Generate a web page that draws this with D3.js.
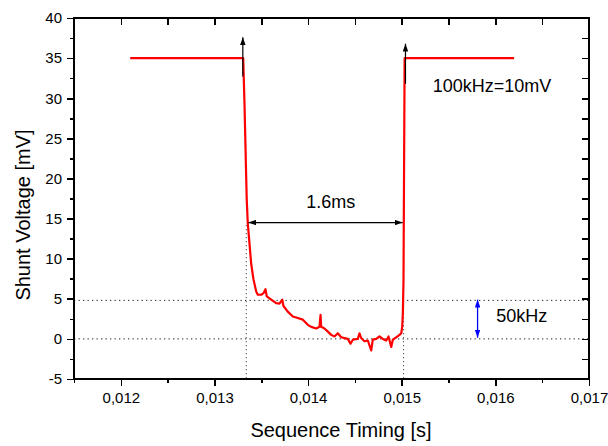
<!DOCTYPE html>
<html>
<head>
<meta charset="utf-8">
<script src="https://cdn.jsdelivr.net/npm/d3@7"></script>
<style>
  html, body { margin: 0; padding: 0; background: #fff; }
  svg { display: block; font-family: "Liberation Sans", Arial, sans-serif; }
</style>
</head>
<body>
<svg id="chart" width="608" height="446"></svg>
<script>
// ---- data ----
const timeS = [0.01210, 0.013307, 0.013321, 0.013337, 0.013345, 0.013356, 0.013374, 0.013392, 0.013417, 0.013446,
  0.013463, 0.013499, 0.013524, 0.013545, 0.013559, 0.013606, 0.013659, 0.013695, 0.013724, 0.013737,
  0.013783, 0.013837, 0.013890, 0.013944, 0.013997, 0.014033, 0.014087, 0.014122, 0.014133, 0.014140,
  0.014175, 0.014211, 0.014247, 0.014282, 0.014317, 0.014354, 0.014389, 0.014424, 0.014453, 0.014478,
  0.014531, 0.014549, 0.014567, 0.014602, 0.014638, 0.014674, 0.014691, 0.014727, 0.014763, 0.014798,
  0.014834, 0.014859, 0.014888, 0.014905, 0.014941, 0.014976, 0.014995, 0.015005, 0.015012, 0.015019,
  0.015031, 0.01620];
const voltageMV = [35, 35, 29.2, 21.1, 17.3, 14.4, 11.9, 9.4, 7.4, 5.9,
  5.5, 5.5, 5.7, 6.2, 5.3, 4.9, 4.45, 4.4, 4.9, 4.1,
  3.4, 2.8, 2.6, 2.4, 1.75, 1.5, 1.3, 1.5, 3.0, 1.5,
  1.3, 0.9, 0.5, 0.3, 0.7, 0.2, 0.1, 0.0, -0.6, -0.1,
  0.0, 0.7, 0.1, -0.3, -0.2, -1.45, -0.1, 0.0, 0.3, 0.0,
  -0.2, 0.3, -1.0, -0.1, 0.2, 0.5, 0.7, 1.5, 3.2, 7.4,
  35, 35];
const xTicks = [0.012, 0.013, 0.014, 0.015, 0.016, 0.017];
const xMinorTicks = [0.0115, 0.0125, 0.0135, 0.0145, 0.0155, 0.0165];
const yTicks = [-5, 0, 5, 10, 15, 20, 25, 30, 35, 40];
const yMinorTicks = [-2.5, 2.5, 7.5, 12.5, 17.5, 22.5, 27.5, 32.5, 37.5];
const refLevels = [0, 4.8];           // dotted horizontal reference lines (mV)
const markTimes = [0.01334, 0.01502]; // dotted vertical marks (s)

// ---- scales ----
const svg = d3.select("#chart");
const L = 74, R = 589, T = 18, B = 379;
const x = d3.scaleLinear().domain([0.0115, 0.017]).range([L, R]);
const y = d3.scaleLinear().domain([-5, 40]).range([B, T]);
const fmt = d => d3.format(".3f")(d).replace(".", ",");

// defs: arrowheads
const defs = svg.append("defs");
function marker(id, color) {
  defs.append("marker").attr("id", id)
    .attr("viewBox", "0 0 10 7").attr("refX", 10).attr("refY", 3.5)
    .attr("markerWidth", 8).attr("markerHeight", 5.5)
    .attr("markerUnits", "userSpaceOnUse")
    .attr("orient", "auto-start-reverse")
    .append("path").attr("d", "M0,0L10,3.5L0,7Z").attr("fill", color);
}
marker("ab", "#000");
marker("abl", "#0000ff");

// dotted reference lines
svg.append("g").selectAll("line").data(refLevels).join("line")
  .attr("x1", L).attr("x2", R).attr("y1", d => y(d)).attr("y2", d => y(d))
  .attr("stroke", "#222").attr("stroke-width", 1).attr("stroke-dasharray", "1.3,3.2");
svg.append("g").selectAll("line").data(markTimes).join("line")
  .attr("x1", d => x(d)).attr("x2", d => x(d)).attr("y1", y(14.2)).attr("y2", B)
  .attr("stroke", "#555").attr("stroke-width", 1).attr("stroke-dasharray", "1.3,2.7");

// curve
const pts = timeS.map((t, i) => [t, voltageMV[i]]);
svg.append("path").datum(pts)
  .attr("d", d3.line().x(d => x(d[0])).y(d => y(d[1])))
  .attr("fill", "none").attr("stroke", "#ff0000").attr("stroke-width", 2.2)
  .attr("stroke-linejoin", "round");

// vertical black arrows at edges
svg.append("line").attr("x1", x(0.013303)).attr("x2", x(0.013303))
  .attr("y1", y(32.7)).attr("y2", y(37.6))
  .attr("stroke", "#000").attr("stroke-width", 1.2).attr("marker-end", "url(#ab)");
svg.append("line").attr("x1", x(0.01504)).attr("x2", x(0.01504))
  .attr("y1", y(31.8)).attr("y2", y(36.8))
  .attr("stroke", "#000").attr("stroke-width", 1.2).attr("marker-end", "url(#ab)");

// 1.6 ms double arrow
svg.append("line").attr("x1", x(0.013362)).attr("x2", x(0.01501))
  .attr("y1", y(14.5)).attr("y2", y(14.5))
  .attr("stroke", "#000").attr("stroke-width", 1.2)
  .attr("marker-start", "url(#ab)").attr("marker-end", "url(#ab)");

// blue double arrow
svg.append("line").attr("x1", x(0.01581)).attr("x2", x(0.01581))
  .attr("y1", y(0.15)).attr("y2", y(4.9))
  .attr("stroke", "#0000ff").attr("stroke-width", 1.3)
  .attr("marker-start", "url(#abl)").attr("marker-end", "url(#abl)");

// annotations
const ann = svg.append("g").attr("font-size", 18).attr("fill", "#000");
ann.append("text").attr("x", x(0.01398)).attr("y", y(16.3)).text("1.6ms");
ann.append("text").attr("x", x(0.01533)).attr("y", y(30.8)).text("100kHz=10mV");
ann.append("text").attr("x", x(0.01601)).attr("y", y(2.15)).text("50kHz");

// axes
function style(g) {
  g.select(".domain").remove();
  g.selectAll("line").attr("stroke", "#000").attr("stroke-width", 1.6)
    .attr("shape-rendering", "crispEdges");
  g.selectAll("text").attr("font-size", 15).attr("fill", "#000")
    .attr("font-family", "\"Liberation Sans\", Arial, sans-serif");
}
svg.append("g").attr("transform", `translate(0,${B})`)
  .call(d3.axisBottom(x).tickValues(xTicks).tickFormat(fmt).tickSize(7).tickPadding(6)).call(style);
svg.append("g").attr("transform", `translate(0,${B})`)
  .call(d3.axisBottom(x).tickValues(xMinorTicks).tickFormat("").tickSize(4)).call(style);
svg.append("g").attr("transform", `translate(${L},0)`)
  .call(d3.axisLeft(y).tickValues(yTicks).tickFormat(d => String(d)).tickSize(7).tickPadding(5)).call(style);
svg.append("g").attr("transform", `translate(${L},0)`)
  .call(d3.axisLeft(y).tickValues(yMinorTicks).tickFormat("").tickSize(4)).call(style);
svg.append("g").attr("transform", `translate(0,${T})`)
  .call(d3.axisTop(x).tickValues(xTicks.concat(xMinorTicks)).tickFormat("").tickSize(-7)).call(style);
svg.append("g").attr("transform", `translate(${R},0)`)
  .call(d3.axisRight(y).tickValues(yTicks.concat(yMinorTicks)).tickFormat("").tickSize(-7)).call(style);

// frame
svg.append("rect").attr("x", L).attr("y", T).attr("width", R - L).attr("height", B - T)
  .attr("fill", "none").attr("stroke", "#000").attr("stroke-width", 2);

// titles
svg.append("text").attr("x", 341).attr("y", 437).attr("text-anchor", "middle")
  .attr("font-size", 20).attr("fill", "#000").text("Sequence Timing [s]");
svg.append("text").attr("transform", "translate(30,215) rotate(-90)").attr("text-anchor", "middle")
  .attr("font-size", 20).attr("fill", "#000").text("Shunt Voltage [mV]");
</script>
</body>
</html>
